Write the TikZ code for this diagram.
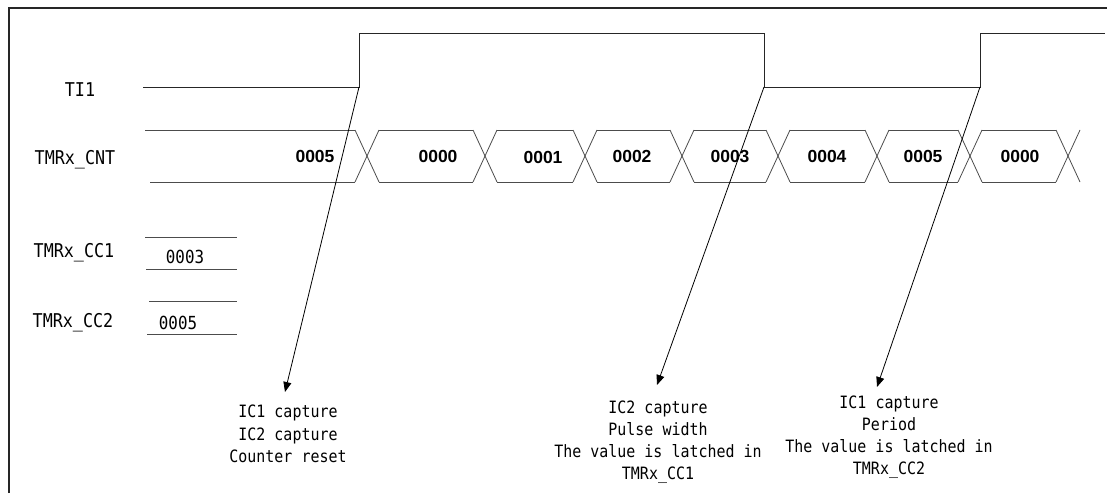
\documentclass[tikz,border=0pt]{standalone}
\usepackage{fontspec}
\newfontfamily\monof{DejaVu Sans Mono}[FakeStretch=0.88]
\newfontfamily\busf{Liberation Sans}
\usetikzlibrary{arrows.meta}
\begin{document}
\begin{tikzpicture}[
  x=1pt, y=-1pt,
  frame/.style={draw=black!85, line width=1.8pt},
  sig/.style={draw=black!85, line width=0.8pt},
  bus/.style={draw=black!70, line width=0.8pt},
  reg/.style={draw=black!70, line width=0.8pt},
  lbl/.style={font=\monof\fontsize{19}{22}\selectfont, inner sep=0pt},
  val/.style={font=\busf\bfseries\fontsize{17.5}{19}\selectfont, inner sep=0pt},
  regval/.style={font=\monof\fontsize{18}{20}\selectfont, inner sep=0pt},
  note/.style={font=\monof\fontsize{17}{22.2}\selectfont, align=center, inner sep=0pt},
  event/.style={-{Triangle[length=10pt, width=8pt]}, line width=0.8pt, black},
]
\def\hw{12}   % half width of a bus transition
\def\bt{130}  % bus top
\def\bb{182}  % bus bottom
\useasboundingbox (0,0) rectangle (1107,493);
% Frame (open at the right and bottom)
\draw[frame] (9,493) -- (9,8) -- (1107,8);
% Signal names
\node[lbl] (nti) at (80,90) {TI1};
\node[lbl] (ncnt) at (75,160) {TMRx\_CNT};
\node[lbl] (ncc1) at (74,253) {TMRx\_CC1};
\node[lbl] (ncc2) at (73,323) {TMRx\_CC2};
% TI1 waveform
\coordinate (e1) at (359,87);
\coordinate (e2) at (764,87);
\coordinate (e3) at (980,87);
\draw[sig] (143,87) -- (e1) -- (359,33) -- (764,33) -- (e2)
  -- (e3) -- (980,33) -- (1105,33);
% TMRx_CNT bus
\draw[bus] (145,\bt) -- (367-\hw,\bt);
\draw[bus] (150,\bb) -- (367-\hw,\bb);
\foreach \a/\b in {367/485, 485/585, 585/682, 682/778, 778/877, 877/970, 970/1068} {
  \draw[bus] (\a+\hw,\bt) -- (\b-\hw,\bt);
  \draw[bus] (\a+\hw,\bb) -- (\b-\hw,\bb);
}
\foreach \t in {367, 485, 585, 682, 778, 877, 970, 1068} {
  \draw[bus] (\t-\hw,\bt) -- (\t+\hw,\bb);
  \draw[bus] (\t-\hw,\bb) -- (\t+\hw,\bt);
}
% Counter values
\node[val] (v0) at (315,156) {0005};
\node[val] (v1) at (438,156) {0000};
\node[val] (v2) at (543,157) {0001};
\node[val] (v3) at (632,156) {0002};
\node[val] (v4) at (730,156) {0003};
\node[val] (v5) at (827,156) {0004};
\node[val] (v6) at (923,156) {0005};
\node[val] (v7) at (1020,156) {0000};
% Capture registers
\draw[reg] (145,237) -- (237,237);
\draw[reg] (146,269) -- (237,269);
\node[regval] (r1) at (185,257) {0003};
\draw[reg] (149,301) -- (237,301);
\draw[reg] (147,334) -- (237,334);
\node[regval] (r2) at (178,323) {0005};
% Event notes
\node[note] (t1) at (288,434) {IC1 capture\\IC2 capture\\Counter reset};
\node[note] (t2) at (658,442) {IC2 capture\\Pulse width\\The value is latched in\\TMRx\_CC1};
\node[note] (t3) at (889,437) {IC1 capture\\Period\\The value is latched in\\TMRx\_CC2};
% Event arrows
\coordinate (a1) at (285,392);
\coordinate (a2) at (657,385);
\coordinate (a3) at (877,387);
\draw[event] (e1) -- (a1);
\draw[event] (e2) -- (a2);
\draw[event] (e3) -- (a3);
\end{tikzpicture}
\end{document}
